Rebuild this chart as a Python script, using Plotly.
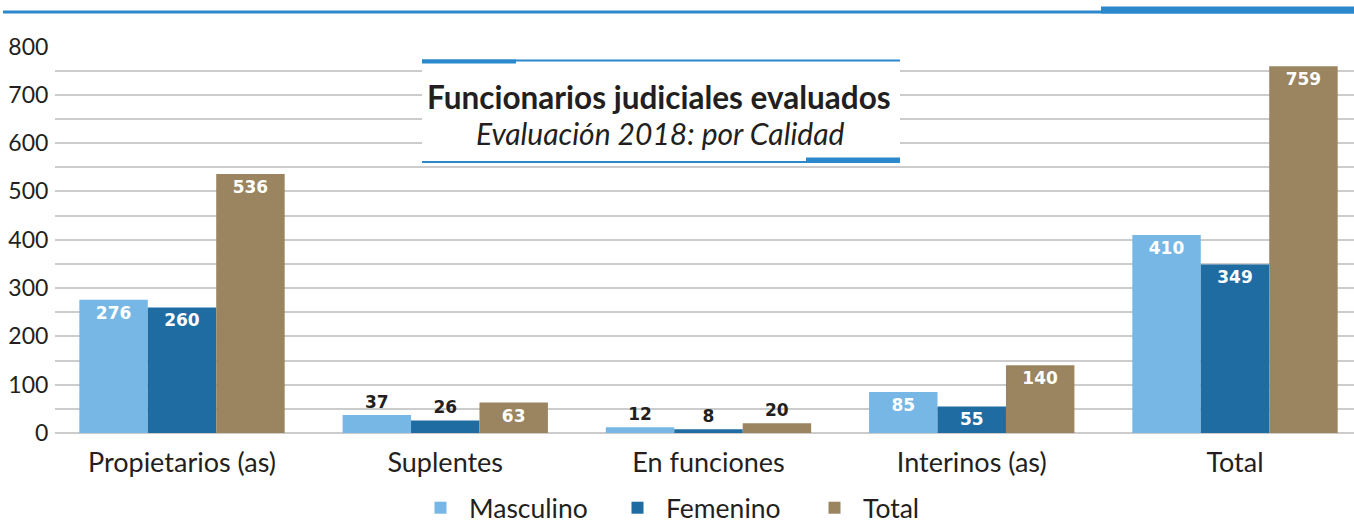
import plotly.graph_objects as go

categories = ["Propietarios (as)", "Suplentes", "En funciones", "Interinos (as)", "Total"]
masculino = [276, 37, 12, 85, 410]
femenino = [260, 26, 8, 55, 349]
total = [536, 63, 20, 140, 759]
series_names = ["Masculino", "Femenino", "Total"]
y_ticks = [0, 100, 200, 300, 400, 500, 600, 700, 800]

colors = ["#77b7e5", "#1f6ca3", "#9a8560"]
FONT = "Lato"
DARK = "#231f20"

# plot-area geometry in pixels (for placing decorations)
W, H = 1354, 524
L, R, T, B = 55, 0, 46, 91
pw, ph = W - L - R, H - T - B

def px_x(p):
    return (p - L) / pw

def px_y(p):
    return (H - B - p) / ph

fig = go.Figure()
for name, vals, col in zip(series_names, [masculino, femenino, total], colors):
    pos = ["inside" if v >= 50 else "outside" for v in vals]
    fig.add_trace(go.Bar(
        x=categories, y=vals, name=name, marker=dict(color=col, line=dict(width=0)),
        text=[str(v) for v in vals], textposition=pos, insidetextanchor="end",
        insidetextfont=dict(family="DejaVu Sans", size=17, color="white", weight="bold"),
        outsidetextfont=dict(family="DejaVu Sans", size=17, color=DARK, weight="bold"),
        textangle=0, cliponaxis=False,
    ))

fig.update_layout(
    width=W, height=H,
    margin=dict(l=L, r=R, t=T, b=B, autoexpand=False),
    barmode="group", bargap=0.22, bargroupgap=0,
    plot_bgcolor="white", paper_bgcolor="white",
    font=dict(family=FONT, color=DARK),
    showlegend=True,
    legend=dict(orientation="h", x=412 / W, xref="container", xanchor="left",
                y=(H - 508) / H, yref="container", yanchor="middle",
                font=dict(family=FONT, size=26.5, color=DARK), itemwidth=47,
                entrywidth=135, traceorder="normal"),
)
fig.update_xaxes(
    range=[-(182 - L) / 263.25, -(182 - L) / 263.25 + pw / 263.25],
    showgrid=False, zeroline=False, showline=False, automargin=False,
    ticks="outside", ticklen=6, tickcolor="rgba(0,0,0,0)",
    tickfont=dict(family=FONT, size=27, color=DARK),
)
fig.update_yaxes(
    range=[0, 801], tickvals=y_ticks, showgrid=True, gridcolor="#cccccc", gridwidth=2,
    minor=dict(dtick=50, showgrid=True, gridcolor="#cccccc", gridwidth=2),
    zeroline=True, zerolinecolor="#cccccc", zerolinewidth=2, showline=False, automargin=False,
    ticks="outside", ticklen=1, tickcolor="rgba(0,0,0,0)",
    tickfont=dict(family=FONT, size=23, color=DARK),
)

BLUE = "#2b88cc"
def rect(x0, x1, y0, y1, layer="above", fill=BLUE):
    return dict(type="rect", xref="paper", yref="paper",
                x0=px_x(x0), x1=px_x(x1), y0=px_y(y1), y1=px_y(y0),
                fillcolor=fill, line=dict(width=0), layer=layer)

shapes = [
    # top rule
    rect(3, W, 10.5, 13.5),
    rect(1101, W, 6.5, 13.5),
    # title box
    rect(422, 900, 58, 163, fill="white"),
    rect(422, 900, 59.5, 61.5),
    rect(422, 516, 59.5, 63.5),
    rect(422, 900, 161, 163),
    rect(806, 900, 157.5, 163),
]
fig.update_layout(shapes=shapes)

fig.add_annotation(x=px_x(659), y=px_y(97), xref="paper", yref="paper", showarrow=False,
                   text="<b>Funcionarios judiciales evaluados</b>",
                   font=dict(family=FONT, size=31.5, color=DARK), xanchor="center", yanchor="middle")
fig.add_annotation(x=px_x(660), y=px_y(133), xref="paper", yref="paper", showarrow=False,
                   text="<i>Evaluación 2018: por Calidad</i>",
                   font=dict(family=FONT, size=30, color=DARK), xanchor="center", yanchor="middle")

fig.write_html("out.html", config={"displayModeBar": False},
               post_script="document.body.style.margin='0';document.body.style.overflow='hidden';")
